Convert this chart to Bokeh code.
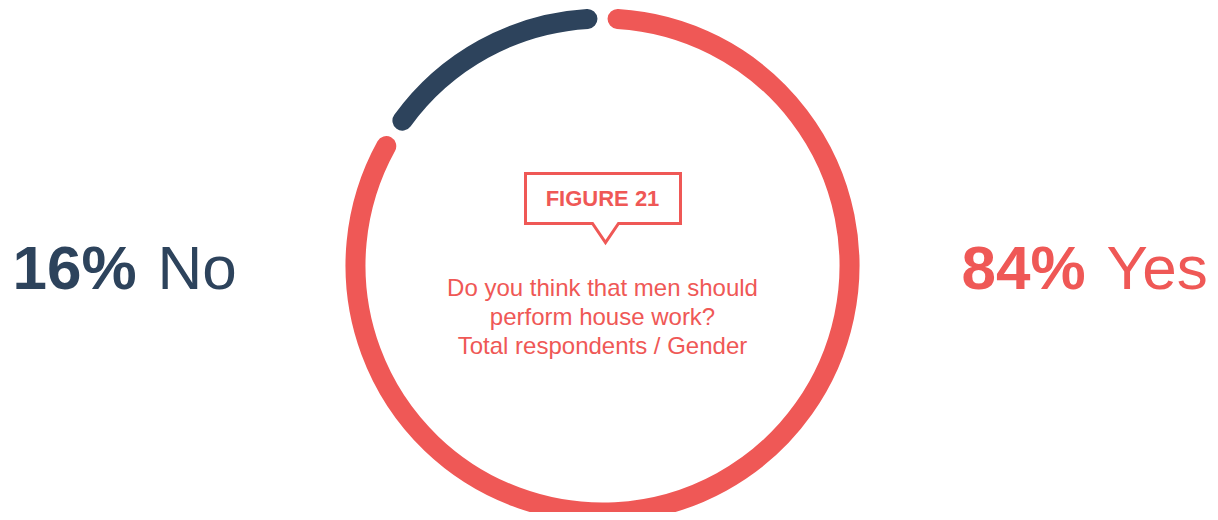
import math
from bokeh.plotting import figure
from bokeh.models import Range1d, ColumnDataSource
from bokeh.core.properties import value
from bokeh.embed import file_html
from bokeh.resources import INLINE

# ---- data ----
labels = ["No", "Yes"]
percents = [16, 84]
colors = ["#2D435C", "#EF5856"]
pct_text = ["16%", "84%"]
title_tag = "FIGURE 21"
question_lines = ["Do you think that men should", "perform house work?", "Total respondents / Gender"]

RED = "#EF5856"
NAVY = "#2D435C"

W, H = 1210, 512
# data coords: x = reference pixel x, y = 520 - reference pixel y
p = figure(width=W, height=H, output_backend="svg", toolbar_location=None,
           x_range=Range1d(0, W), y_range=Range1d(520 - H, 520),
           min_border=0)
p.axis.visible = False
p.grid.visible = False
p.outline_line_color = None
p.background_fill_color = "white"

cx, cy, r = 602, 520 - 265, 247
gap = 3.5  # degrees trimmed each side

# build arcs from percentages, starting at top going anticlockwise
start = 90.0
starts, ends = [], []
for pc in percents:
    span = pc / 100 * 360
    starts.append(math.radians(start + gap))
    ends.append(math.radians(start + span - gap))
    start += span

src = ColumnDataSource(dict(x=[cx] * 2, y=[cy] * 2, r=[r] * 2, s=starts, e=ends, c=colors))
p.arc(x="x", y="y", radius="r", start_angle="s", end_angle="e", direction="anticlock",
      line_color="c", line_width=20, line_cap="round", source=src)

# side labels
fs = "62px"
ly = 520 - 267
p.text(x=[12], y=[ly], text=[pct_text[0]], text_font=value("Liberation Sans"),
       text_font_size=fs, text_font_style="bold", text_color=NAVY,
       text_baseline="alphabetic", text_align="left")
p.text(x=[157], y=[ly], text=[labels[0]], text_font=value("Liberation Sans"),
       text_font_size=fs, text_color=NAVY, text_baseline="alphabetic", text_align="left")
p.text(x=[961], y=[ly], text=[pct_text[1]], text_font=value("Liberation Sans"),
       text_font_size=fs, text_font_style="bold", text_color=RED,
       text_baseline="alphabetic", text_align="left")
p.text(x=[1106], y=[ly], text=[labels[1]], text_font=value("Liberation Sans"),
       text_font_size=fs, text_color=RED, text_baseline="alphabetic", text_align="left")

# callout box
bx = [525, 680, 680, 618, 605, 592, 525]
by = [520 - v for v in [173, 173, 223, 223, 242, 223, 223]]
p.patch(bx, by, fill_color="white", line_color=RED, line_width=3, line_join="miter")
p.text(x=[602], y=[520 - 198], text=[title_tag], text_font=value("Liberation Sans"),
       text_font_size="22px", text_font_style="bold", text_color=RED,
       text_baseline="alphabetic", text_align="center")

# question
qy = [520 - 287, 520 - 316, 520 - 345]
p.text(x=[602] * 3, y=qy, text=question_lines, text_font=value("Liberation Sans"),
       text_font_size="24px", text_color=RED, text_baseline="alphabetic", text_align="center")

open("out.html", "w").write(file_html(p, INLINE))
